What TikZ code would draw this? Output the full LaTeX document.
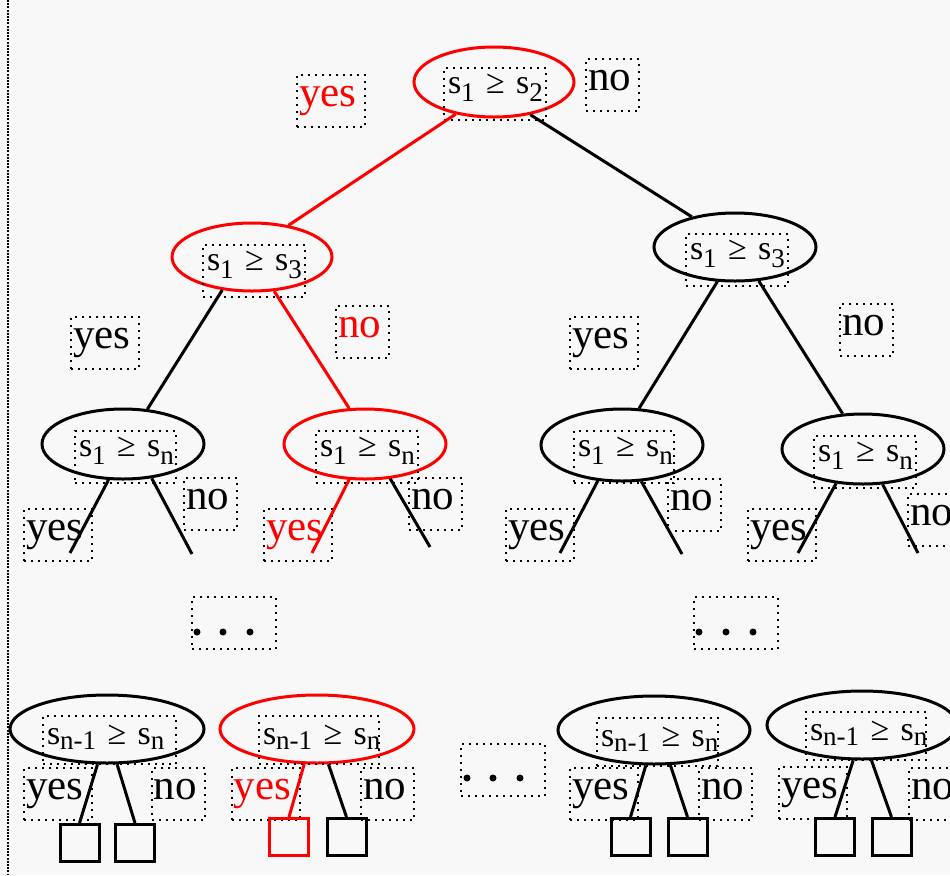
\documentclass[tikz,border=0pt]{standalone}
\usepackage{fontspec}
\setmainfont{Liberation Serif}
\usetikzlibrary{shapes.geometric}
\definecolor{paper}{HTML}{F8F8F8}

% lowered index: #1 = drop, #2 = index text
\newcommand\lowidx[2]{\raisebox{-#1}{\fontsize{13.5}{14}\selectfont #2}}
% comparison s_a >= s_b
\newcommand\cmpr[2]{\mbox{s\lowidx{4pt}{#1} ≥ s\lowidx{4pt}{#2}}}
\newcommand\cmprlow[2]{\mbox{s\lowidx{2.5pt}{#1} ≥ s\lowidx{2.5pt}{#2}}}

\tikzset{
  dec/.style={ellipse, draw, line width=1.5pt, inner sep=0pt},
  edge/.style={line width=1.5pt},
  leaf/.style={draw, line width=1.5pt, inner sep=0pt, minimum width=19.5pt, minimum height=18.5pt},
  dotbox/.style={draw, line width=1pt, dash pattern=on 1pt off 2.5pt, inner ysep=0pt, anchor=north west},
  lab/.style={dotbox, font=\fontsize{21.5}{24}\selectfont, text height=15.5pt, text depth=10.5pt, inner xsep=1pt, align=left},
  yes/.style={lab, text width=32pt},
  no/.style={lab, text width=24.5pt},
  cond/.style={dotbox, font=\fontsize{17}{20}\selectfont, text height=12.5pt, text depth=13.5pt, inner xsep=2pt, align=left},
  condlow/.style={cond, text height=14pt, text depth=10pt},
  gap/.style={dotbox, minimum width=42pt, minimum height=26pt},
  dot/.style={radius=1.75pt}
}

\begin{document}
\begin{tikzpicture}[x=0.5pt,y=-0.5pt]
\fill[paper] (0,0) rectangle (950,875);
\clip (0,0) rectangle (950,875);
\draw[line width=0.6pt, dash pattern=on 1pt off 0.6pt] (8,0) -- (8,875);

% branch labels
\node[yes, text=red] (l0y) at (296,74) {yes};
\node[no] (l0n) at (585,58) {no};
\node[yes] (lay) at (70,316) {yes};
\node[no, text=red] (lan) at (335,305) {no};
\node[yes] (lby) at (569,316) {yes};
\node[no] (lbn) at (839,303) {no};
\node[yes] (l1y) at (23,508) {yes};
\node[no] (l1n) at (183,477) {no};
\node[yes, text=red] (l2y) at (263,508) {yes};
\node[no] (l2n) at (408,477) {no};
\node[yes] (l3y) at (505,508) {yes};
\node[no] (l3n) at (667,478) {no};
\node[yes] (l4y) at (747,508) {yes};
\node[no] (l4n) at (907,493) {no};
\node[yes] (m1y) at (23,767) {yes};
\node[no] (m1n) at (151,767) {no};
\node[yes, text=red] (m2y) at (231,767) {yes};
\node[no] (m2n) at (360,767) {no};
\node[yes] (m3y) at (569,767) {yes};
\node[no] (m3n) at (698,767) {no};
\node[yes] (m4y) at (778,766) {yes};
\node[no] (m4n) at (908,767) {no};

% elided levels
\node[gap] (gapL) at (191,596) {};
\node[gap] (gapR) at (693,596) {};
\node[gap] (gapM) at (460,743) {};
\fill (197,632) circle[dot] (223,632) circle[dot] (250,632) circle[dot];
\fill (699,632) circle[dot] (726,632) circle[dot] (753,632) circle[dot];
\fill (467,778) circle[dot] (493,778) circle[dot] (520,778) circle[dot];

% decision ellipses
\node[dec, draw=red, minimum width=80pt, minimum height=35pt] (root) at (494,82) {};
\node[dec, draw=red, minimum width=80pt, minimum height=34pt] (A) at (252,257) {};
\node[dec, minimum width=81pt, minimum height=34pt] (B) at (735,247) {};
\node[dec, minimum width=81pt, minimum height=35pt] (C1) at (123,444) {};
\node[dec, draw=red, minimum width=81pt, minimum height=35pt] (C2) at (365,444) {};
\node[dec, minimum width=81pt, minimum height=36pt] (C3) at (622,445) {};
\node[dec, minimum width=81pt, minimum height=35pt] (C4) at (863,449) {};
\node[dec, minimum width=97pt, minimum height=34pt] (D1) at (107,729) {};
\node[dec, draw=red, minimum width=97pt, minimum height=34pt] (D2) at (317,729) {};
\node[dec, minimum width=96pt, minimum height=34pt] (D3) at (654,730) {};
\node[dec, minimum width=95pt, minimum height=34pt] (D4) at (862,725) {};

% comparison texts
\node[cond, text width=47pt] (rootT) at (443,67) {\cmpr{1}{2}};
\node[cond, text width=47pt] (AT) at (202,244) {\cmpr{1}{3}};
\node[cond, text width=47pt] (BT) at (685,233) {\cmpr{1}{3}};
\node[cond, text width=46.5pt] (C1T) at (74,430) {\cmpr{1}{n}};
\node[cond, text width=47pt] (C2T) at (315,430) {\cmpr{1}{n}};
\node[cond, text width=46pt] (C3T) at (573,430) {\cmpr{1}{n}};
\node[cond, text width=47pt] (C4T) at (813,435) {\cmpr{1}{n}};
\node[condlow, text width=62.5pt] (D1T) at (42,715) {\cmprlow{n-1}{n}};
\node[condlow, text width=56pt] (D2T) at (258,715) {\cmprlow{n-1}{n}};
\node[condlow, text width=56.5pt] (D3T) at (596,717) {\cmprlow{n-1}{n}};
\node[condlow, text width=56pt] (D4T) at (805,711) {\cmprlow{n-1}{n}};

% outcome boxes
\node[leaf] (q11) at (79.5,843) {};
\node[leaf] (q12) at (135,843) {};
\node[leaf, draw=red] (q21) at (289,837) {};
\node[leaf] (q22) at (346.5,837) {};
\node[leaf] (q31) at (630.5,837) {};
\node[leaf] (q32) at (687.5,837) {};
\node[leaf] (q41) at (835,837) {};
\node[leaf] (q42) at (891.5,837) {};

% open branch ends below the third level
\coordinate (c1l) at (70,553);
\coordinate (c1r) at (192,554);
\coordinate (c2l) at (312,553);
\coordinate (c2r) at (430,547);
\coordinate (c3l) at (560,553);
\coordinate (c3r) at (682,554);
\coordinate (c4l) at (798,553);
\coordinate (c4r) at (918,553);

% branches
\draw[edge, red] (root.220) -- (A.41);
\draw[edge] (root.318) -- (B.145);
\draw[edge] (A.228) -- (C1.55);
\draw[edge, red] (A.303) -- (C2.114);
\draw[edge] (B.243) -- (C3.65);
\draw[edge] (B.305) -- (C4.120);
\draw[edge] (C1.248) -- (c1l);
\draw[edge] (C1.310) -- (c1r);
\draw[edge, red] (C2.246) -- (c2l);
\draw[edge] (C2.306) -- (c2r);
\draw[edge] (C3.236) -- (c3l);
\draw[edge] (C3.298) -- (c3r);
\draw[edge] (C4.232) -- (c4l);
\draw[edge] (C4.299) -- (c4r);
\draw[edge] (D1.255) -- (q11.north);
\draw[edge] (D1.286) -- (q12.north);
\draw[edge, red] (D2.250) -- (q21.north);
\draw[edge] (D2.288) -- (q22.north);
\draw[edge] (D3.257) -- (q31.north);
\draw[edge] (D3.295) -- (q32.north);
\draw[edge] (D4.256) -- (q41.north);
\draw[edge] (D4.285) -- (q42.north);
\end{tikzpicture}
\end{document}
